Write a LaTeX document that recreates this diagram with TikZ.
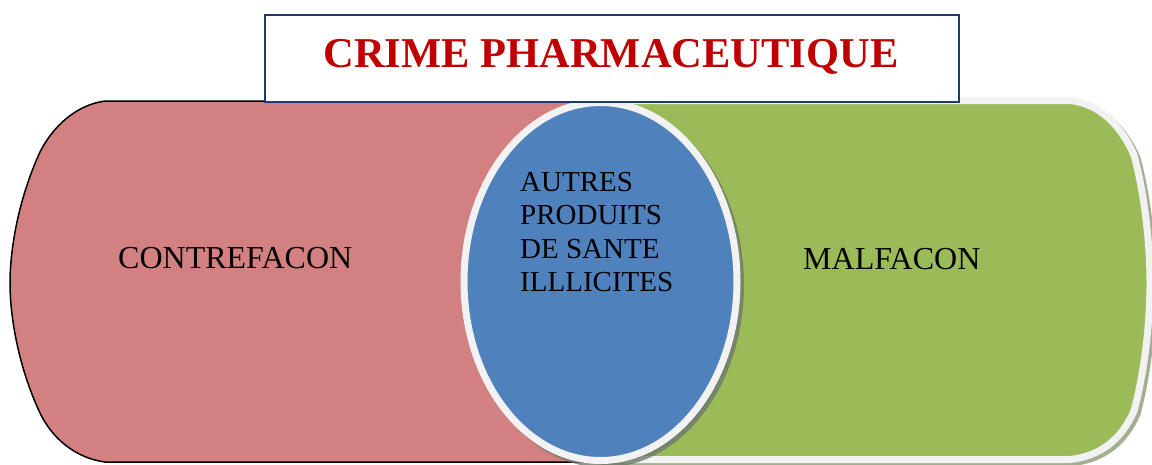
\documentclass[tikz,border=0pt]{standalone}
\usepackage{fontspec}
\setmainfont{Liberation Serif}
\definecolor{redfill}{HTML}{D38180}
\definecolor{greenfill}{HTML}{9BBB59}
\definecolor{bluefill}{HTML}{4F81BD}
\definecolor{rimgray}{HTML}{F2F2F2}
\definecolor{titlered}{HTML}{C00000}
\definecolor{navy}{HTML}{1F3A6E}
\definecolor{shadowgreen}{HTML}{A3AE92}
\definecolor{shadowgray}{HTML}{6E7A6A}
\tikzset{
  label32/.style={inner sep=0pt, anchor=base west, font=\fontsize{32}{38}\selectfont},
  rim/.style={draw=rimgray, line width=7pt},
}
\begin{document}
\begin{tikzpicture}[x=1pt,y=-1pt]
\useasboundingbox (0,0) rectangle (1152,464);
% red shape
\path[fill=redfill, draw=black, line width=1.5pt]
  (105,101) -- (600,101) -- (600,462) -- (105,462)
  .. controls (75,458) and (52,438) .. (40,413)
  .. controls (18,366) and (10,316) .. (10,283)
  .. controls (10,250) and (18,200) .. (40,152)
  .. controls (52,128) and (75,105) .. (105,101) -- cycle;
% green shape shadow
\path[fill=shadowgreen, draw=shadowgreen, line width=7pt, shift={(3,3)}]
  (600,100.5) -- (1070,100.5)
  .. controls (1102,104) and (1122,128) .. (1134,155)
  .. controls (1146,200) and (1150,250) .. (1150,283)
  .. controls (1150,316) and (1146,366) .. (1134,411)
  .. controls (1122,438) and (1102,456) .. (1070,459.5)
  -- (600,459.5) -- cycle;
% green shape
\path[fill=greenfill, rim]
  (600,100.5) -- (1070,100.5)
  .. controls (1102,104) and (1122,128) .. (1134,155)
  .. controls (1146,200) and (1150,250) .. (1150,283)
  .. controls (1150,316) and (1146,366) .. (1134,411)
  .. controls (1122,438) and (1102,456) .. (1070,459.5)
  -- (600,459.5) -- cycle;
% ellipse shadow
\path[fill=shadowgray, draw=shadowgray, line width=7pt, opacity=0.8]
  (604,285) ellipse [x radius=136.5, y radius=179];
% ellipse
\path[fill=bluefill, rim] (600.5,281.5) ellipse [x radius=136.5, y radius=179];
% title box
\node[draw=navy, line width=1.8pt, fill=white, minimum width=694pt, minimum height=87pt, inner sep=0pt, anchor=north west]
  (titlebox) at (264,14) {};
\node[inner sep=0pt, anchor=base, text=titlered, font=\fontsize{42.5}{50}\selectfont\bfseries]
  (title) at (611,67) {CRIME PHARMACEUTIQUE};
% labels
\node[label32] (contre) at (118,268) {CONTREFACON};
\node[label32] (malf) at (803,269) {MALFACON};
\node[inner sep=0pt, anchor=north west, align=left, font=\fontsize{29}{33.5}\selectfont]
  (autres) at (520,172) {AUTRES\\PRODUITS\\DE SANTE\\ILLLICITES};
\end{tikzpicture}
\end{document}
